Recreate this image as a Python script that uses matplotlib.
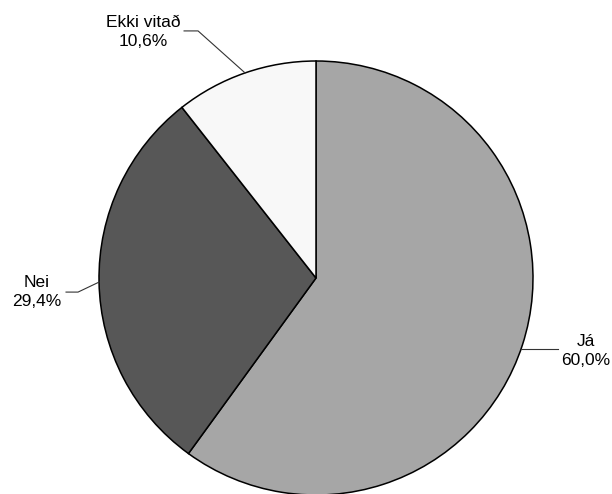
import numpy as np
import matplotlib.pyplot as plt

plt.rcParams['font.family'] = ['Liberation Sans', 'DejaVu Sans']

labels = ['Já', 'Nei', 'Ekki vitað']
values = [60.0, 29.4, 10.6]
colors = ['#a6a6a6', '#575757', '#f8f8f8']

W, H = 612, 494
fig = plt.figure(figsize=(W / 100, H / 100), dpi=100)
ax = fig.add_axes([0, 0, 1, 1])

cx, cy, r = 316, H - 278, 217
wedges, _ = ax.pie(values, colors=colors, startangle=90, counterclock=False,
                   center=(cx, cy), radius=r, frame=True,
                   wedgeprops=dict(edgecolor='black', linewidth=1.1))
ax.set_xlim(0, W)
ax.set_ylim(0, H)
ax.set_aspect('equal')
ax.axis('off')

# leader: angle nudge, elbow offset from the edge point, horizontal run; text offsets
nudge = [-1.1, 0.0, 0.0]
elbows = [(37, 0, 0, 0), (-21, -10, -12, 0), (-47, 42, -14, 0)]
text_off = [(28, -2), (-29, 0), (-41, -1)]

for w, lab, v, dn, (ex, ey, hx, hy), (tx, ty) in zip(wedges, labels, values, nudge, elbows, text_off):
    mid = np.deg2rad((w.theta1 + w.theta2) / 2 + dn)
    px, py = cx + r * np.cos(mid), cy + r * np.sin(mid)
    x1, y1 = px + ex, py + ey
    x2, y2 = x1 + hx, y1 + hy
    ax.plot([px, x1, x2], [py, y1, y2], color='#333333', lw=0.8)
    ax.text(x2 + tx, y2 + ty, f'{lab}\n{v:.1f}%'.replace('.', ','),
            ha='center', va='center', fontsize=12.5, linespacing=1.3)

fig.savefig('out.png', dpi=100)
